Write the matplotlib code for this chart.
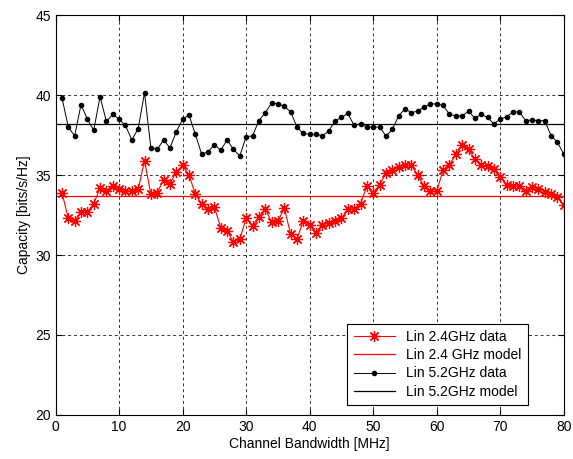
import numpy as np
import matplotlib.pyplot as plt

plt.rcParams['font.family'] = ['Liberation Sans', 'DejaVu Sans']

# channel bandwidth [MHz]
bw = np.arange(1, 81)

# Lin 2.4GHz data
cap_24 = [33.9, 32.3, 32.1, 32.7, 32.7, 33.2, 34.2, 34.0, 34.3, 34.1,
          34.0, 34.0, 34.1, 35.9, 33.8, 33.9, 34.7, 34.45, 35.2, 35.6,
          35.0, 33.8, 33.2, 32.85, 33.0, 31.7, 31.5, 30.8, 31.0, 32.3,
          31.8, 32.35, 32.9, 32.05, 32.1, 32.95, 31.3, 31.0, 32.15, 31.9,
          31.4, 31.9, 32.0, 32.1, 32.3, 32.85, 32.9, 33.2, 34.3, 33.9,
          34.4, 35.1, 35.3, 35.5, 35.6, 35.6, 35.0, 34.3, 34.0, 34.0,
          35.3, 35.65, 36.3, 36.9, 36.6, 36.0, 35.6, 35.55, 35.4, 34.9,
          34.4, 34.3, 34.3, 34.0, 34.25, 34.15, 33.95, 33.8, 33.6, 33.1]

# Lin 5.2GHz data
cap_52 = [39.85, 38.0, 37.45, 39.4, 38.5, 37.8, 39.9, 38.35, 38.8, 38.5,
          38.1, 37.2, 37.9, 40.15, 36.7, 36.6, 37.2, 36.7, 37.7, 38.5,
          38.75, 37.55, 36.3, 36.45, 36.9, 36.55, 37.2, 36.6, 36.2, 37.4,
          37.45, 38.4, 38.9, 39.5, 39.45, 39.3, 38.95, 38.0, 37.6, 37.55,
          37.55, 37.45, 37.75, 38.4, 38.6, 38.85, 38.1, 38.2, 38.0, 38.0,
          38.0, 37.45, 37.85, 38.7, 39.15, 38.9, 39.0, 39.25, 39.45, 39.45,
          39.35, 38.8, 38.7, 38.7, 39.0, 38.55, 38.8, 38.6, 38.2, 38.5,
          38.65, 38.95, 38.95, 38.4, 38.45, 38.4, 38.4, 37.45, 37.05, 36.3]

# model values
model_24 = 33.7
model_52 = 38.2

fig = plt.figure(figsize=(5.73, 4.59), dpi=100)
ax = fig.add_axes([0.097, 0.096, 0.887, 0.871])

# matlab style '*' marker: 8 thin arms
ax.plot(bw, cap_24, color='red', marker=(8, 2, 0), markersize=8,
        markeredgewidth=0.9, linewidth=0.8, label='Lin 2.4GHz data')
ax.axhline(model_24, color='red', linewidth=0.9, label='Lin 2.4 GHz model')
ax.plot(bw, cap_52, color='black', marker='.', markersize=6, linewidth=0.7,
        label='Lin 5.2GHz data')
ax.axhline(model_52, color='black', linewidth=0.9, label='Lin 5.2GHz model')

ax.set_xlim(0, 80)
ax.set_ylim(20, 45)
ax.set_xticks(np.arange(0, 81, 10))
ax.set_yticks(np.arange(20, 46, 5))
ax.grid(True, color='#333333', linestyle=(0, (3, 3)), linewidth=0.7)
ax.tick_params(direction='in', top=True, right=True, labelsize=10, length=4)
for s in ax.spines.values():
    s.set_linewidth(0.8)

ax.set_xlabel('Channel Bandwidth [MHz]', fontsize=10, labelpad=2)
ax.set_ylabel('Capacity [bits/s/Hz]', fontsize=10, labelpad=3)

leg = ax.legend(loc='lower right', bbox_to_anchor=(0.943, 0.008), fontsize=10,
                fancybox=False, framealpha=1, edgecolor='black',
                handlelength=3.0, borderpad=0.45, labelspacing=0.3)
leg.get_frame().set_linewidth(0.8)

fig.savefig('out.png', dpi=100)
